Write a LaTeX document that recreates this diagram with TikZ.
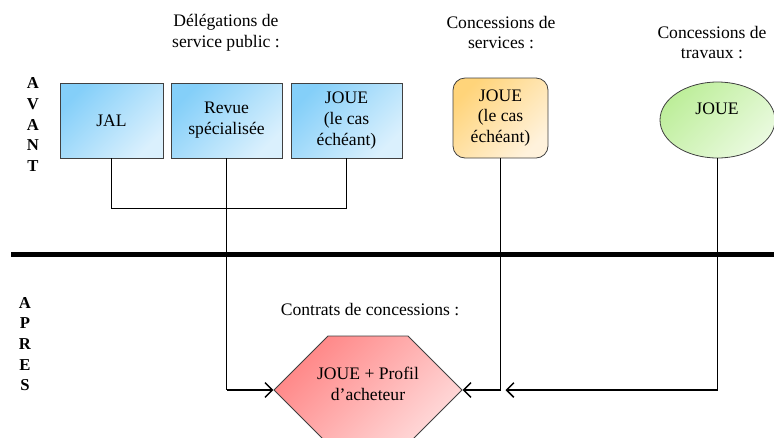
\documentclass[tikz,border=0pt]{standalone}
\usepackage{fontspec}
\setmainfont{Liberation Serif}
\usetikzlibrary{arrows.meta,positioning,shapes.geometric,shapes.symbols}

\definecolor{bleuA}{HTML}{84CFF9}
\definecolor{bleuB}{HTML}{DAF0FD}
\definecolor{orangeA}{HTML}{FFD47A}
\definecolor{orangeB}{HTML}{FFF2DC}
\definecolor{vertA}{HTML}{BDEE9A}
\definecolor{vertB}{HTML}{EAFADF}
\definecolor{rougeA}{HTML}{FF8585}
\definecolor{rougeB}{HTML}{FFDADA}
\definecolor{gris}{HTML}{404040}

\begin{document}
\begin{tikzpicture}[x=0.75pt, y=-0.75pt]
\tikzstyle{every node}=[font=\fontsize{13.2}{15.7}\selectfont, align=center, inner sep=0pt] %%
\tikzstyle{bloc}=[draw=gris, line width=.6pt, minimum height=56.25pt, top color=bleuA, bottom color=bleuB, shading angle=45]
\tikzstyle{lettres}=[font=\fontsize{12.5}{15.5}\selectfont\bfseries]
\tikzstyle{trait}=[draw=black, line width=.6pt]
\tikzstyle{fleche}=[draw=black, line width=1.1pt, -{Straight Barb[length=5.5pt,width=11pt]}]
\clip (0,0) rectangle (774,437);
\useasboundingbox (0,0) rectangle (774,437);
% avant
\node[lettres] (avant) at (33,124.5) {A\\V\\A\\N\\T};
\node (dsp) at (226,32.5) {Délégations de\\service public :};
\node[bloc, minimum width=77.25pt] (jal) at (111.5,120.5) {JAL};
\node[bloc, minimum width=83.25pt] (revue) at (226.5,120.5) {Revue\\spécialisée};
\node[bloc, minimum width=83.25pt] (joue) at (346.5,120.5) {JOUE\\(le cas\\échéant)};
\node (cs) at (501,32.5) {Concessions de\\services :};
\node[draw=gris, line width=.6pt, rounded corners=9pt, minimum width=71.25pt, minimum height=60pt,
      top color=orangeA, bottom color=orangeB, shading angle=45] (services) at (500.5,118) {JOUE\\(le cas\\échéant)};
\node (ct) at (712,42.5) {Concessions de\\travaux :};
\node[ellipse, draw=gris, line width=.6pt, minimum width=86.25pt, minimum height=57pt,
      top color=vertA, bottom color=vertB, shading angle=45] (travaux) at (717.5,120) {};
\node (jouet) at (717,109) {JOUE};
% separation
\coordinate (sepg) at (11,254);
\coordinate (sepd) at (774,254);
% apres
\node[lettres] (apres) at (25,344) {A\\P\\R\\E\\S};
\node (cc) at (370,310) {Contrats de concessions :};
\node[signal, signal to=west and east, signal pointer angle=90, draw=gris, line width=.6pt,
      minimum width=141pt, minimum height=81pt, top color=rougeA, bottom color=rougeB, shading angle=45] (contrat) at (368,390) {};
\node (profil) at (368,383.5) {JOUE + Profil\\d’acheteur};
% liens
\draw[trait] (jal.south) -- ++(0,50) -| (joue.south);
\draw[trait] (revue.south) -- (revue.south |- contrat.west);
\draw[trait] (services.south) -- (services.south |- contrat.east);
\draw[trait] (travaux.south) -- (travaux.south |- contrat.east);
\draw[line width=3.75pt] (sepg) -- (sepd);
\path (services.south |- contrat.east) ++(5,0) coordinate (fin);
\draw[fleche] (revue.south |- contrat.west) -- (contrat.west);
\draw[fleche] (services.south |- contrat.east) -- (contrat.east);
\draw[fleche] (travaux.south |- contrat.east) -- (fin);
\end{tikzpicture}
\end{document}
